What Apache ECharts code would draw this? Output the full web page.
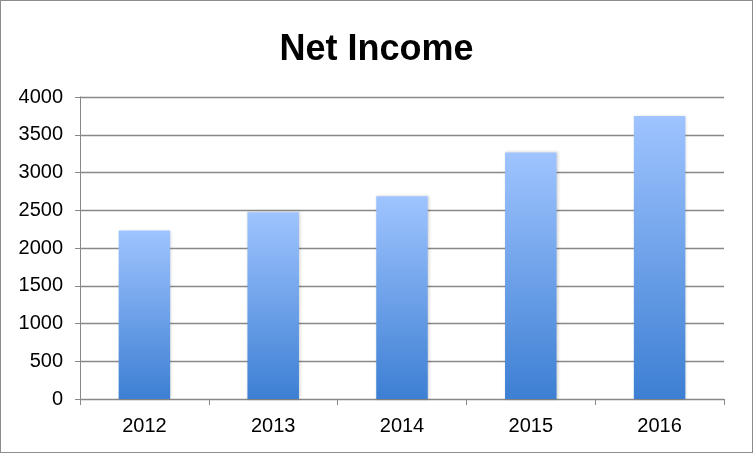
<!DOCTYPE html>
<html><head><meta charset="utf-8">
<script src="https://cdn.jsdelivr.net/npm/echarts@6/dist/echarts.min.js"></script>
<style>html,body{margin:0;padding:0;background:#fff}#c{width:753px;height:453px;box-sizing:border-box;border:1px solid #8c8c8c;}</style>
</head><body><div id="c"></div>
<script>
const categories = ['2012','2013','2014','2015','2016'];
const netIncome = [2231, 2475, 2685, 3265, 3750];
const chart = echarts.init(document.getElementById('c'));
chart.setOption({
  animation:false,
  title:{text:'Net Income',left:'center',top:26,textStyle:{fontFamily:'Liberation Sans',fontWeight:'bold',fontSize:36,color:'#000'}},
  grid:{left:79,right:28,top:96,bottom:53,containLabel:false},
  xAxis:{type:'category',data:categories,
    axisLine:{lineStyle:{color:'#888',width:1}},
    axisTick:{show:true,length:6,lineStyle:{color:'#888'}},
    axisLabel:{fontFamily:'Liberation Sans',fontSize:20,color:'#000',margin:17}},
  yAxis:{type:'value',min:0,max:4000,interval:500,
    axisLine:{show:true,lineStyle:{color:'#888'}},
    axisTick:{show:true,length:5,lineStyle:{color:'#888'}},
    splitLine:{lineStyle:{color:'#888',width:1.3}},
    axisLabel:{fontFamily:'Liberation Sans',fontSize:20,color:'#000',margin:17,formatter:v=>String(v)}},
  series:[{type:'bar',data:netIncome,barWidth:'40%',
    itemStyle:{color:new echarts.graphic.LinearGradient(0,0,0,1,[{offset:0,color:'#9fc4ff'},{offset:1,color:'#3d7fd3'}]),
      shadowColor:'rgba(0,0,0,0.18)',shadowBlur:3,shadowOffsetX:1,shadowOffsetY:0}}]
});
</script></body></html>
